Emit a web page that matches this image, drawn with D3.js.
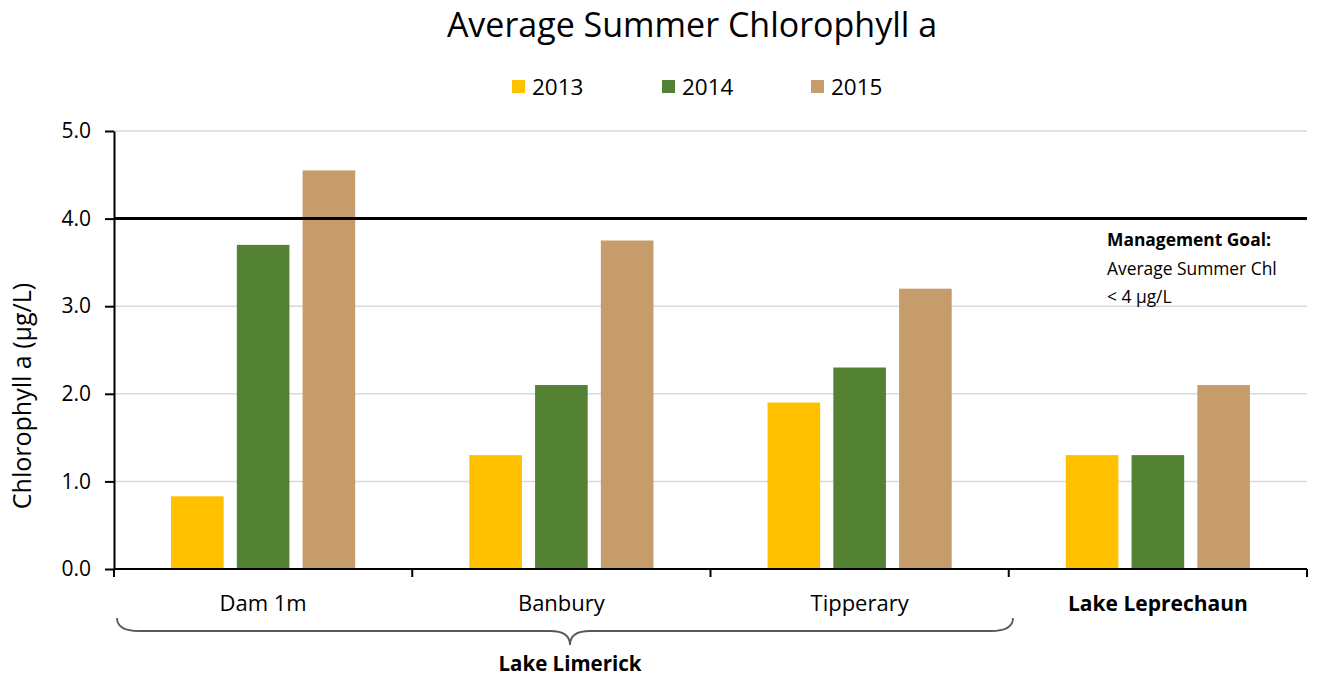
<!DOCTYPE html>
<html>
<head>
<meta charset="utf-8">
<script src="https://cdn.jsdelivr.net/npm/d3@7"></script>
<style>
  body { margin: 0; background: #fff; }
  text { font-family: "Open Sans", sans-serif; fill: #000; }
</style>
</head>
<body>
<svg id="chart" width="1317" height="678"></svg>
<script>
const sites   = ["Dam 1m", "Banbury", "Tipperary", "Lake Leprechaun"];
const years   = ["2013", "2014", "2015"];
const v2013   = [0.83, 1.3, 1.9, 1.3];
const v2014   = [3.7, 2.1, 2.3, 1.3];
const v2015   = [4.55, 3.75, 3.2, 2.1];
const colors  = ["#FFC000", "#548235", "#C69C6D"];
const yTicks  = [0, 1, 2, 3, 4, 5];
const goal    = 4;

const series = [v2013, v2014, v2015];

const svg = d3.select("#chart");
const m = {left: 114, right: 1307, top: 131, bottom: 569};

const x = d3.scaleBand().domain(sites).range([m.left, m.right]);
const xi = d3.scaleBand().domain(years).range([57, 298 - 57]).paddingInner(0.2);
const y = d3.scaleLinear().domain([0, 5]).range([m.bottom, m.top]);

// gridlines
svg.append("g")
  .selectAll("line")
  .data(yTicks.filter(t => t > 0))
  .join("line")
    .attr("x1", m.left).attr("x2", m.right)
    .attr("y1", d => y(d)).attr("y2", d => y(d))
    .attr("stroke", "#d9d9d9").attr("stroke-width", 1.5);

// bars
svg.append("g")
  .selectAll("g")
  .data(series)
  .join("g")
    .attr("fill", (d, i) => colors[i])
    .selectAll("rect")
    .data((d, i) => d.map((v, j) => ({site: sites[j], year: years[i], v})))
    .join("rect")
      .attr("x", d => x(d.site) + xi(d.year) * x.bandwidth() / 298)
      .attr("width", xi.bandwidth() * x.bandwidth() / 298)
      .attr("y", d => y(d.v))
      .attr("height", d => y(0) - y(d.v));

// y axis
const yAxis = svg.append("g")
  .attr("transform", `translate(${m.left},0)`)
  .call(d3.axisLeft(y).tickValues(yTicks).tickFormat(d3.format(".1f")).tickSize(9).tickSizeOuter(0));
yAxis.select(".domain").attr("stroke", "#000").attr("stroke-width", 2);
yAxis.selectAll(".tick line").attr("stroke", "#000").attr("stroke-width", 2);
yAxis.selectAll("text").attr("font-size", 21).attr("x", -23).attr("font-family", "Open Sans");

// x axis
const xAxis = svg.append("g").attr("transform", `translate(0,${m.bottom})`);
xAxis.append("line")
  .attr("x1", m.left).attr("x2", m.right)
  .attr("stroke", "#000").attr("stroke-width", 2);
xAxis.selectAll(".tk")
  .data(sites.map(s => x(s)).concat([m.right]))
  .join("line")
    .attr("class", "tk")
    .attr("x1", d => d).attr("x2", d => d)
    .attr("y1", 0).attr("y2", 8)
    .attr("stroke", "#000").attr("stroke-width", 2);
xAxis.selectAll(".lbl")
  .data(sites)
  .join("text")
    .attr("class", "lbl")
    .attr("x", d => x(d) + x.bandwidth() / 2)
    .attr("y", 42)
    .attr("text-anchor", "middle")
    .attr("font-size", d => d === "Lake Leprechaun" ? 21 : 22)
    .attr("font-weight", d => d === "Lake Leprechaun" ? "bold" : "normal")
    .text(d => d);

// goal line
svg.append("line")
  .attr("x1", m.left).attr("x2", m.right)
  .attr("y1", y(goal)).attr("y2", y(goal))
  .attr("stroke", "#000").attr("stroke-width", 3);

const note = svg.append("g").attr("font-size", 17.4);
note.append("text").attr("x", 1107).attr("y", 246).attr("font-weight", "bold").text("Management Goal:");
note.append("text").attr("x", 1107).attr("y", 275).text("Average Summer Chl");
note.append("text").attr("x", 1107).attr("y", 303).text("< 4 µg/L");

// brace under Lake Limerick sites
const bx0 = 117, bx1 = 1013, bmid = (bx0 + bx1) / 2 + 5;
const bTop = 618, bLine = 631, bTip = 645;
svg.append("path")
  .attr("d", `M${bx0},${bTop} Q${bx0},${bLine} ${bx0 + 22},${bLine}
              L${bmid - 20},${bLine} Q${bmid},${bLine} ${bmid},${bTip}
              Q${bmid},${bLine} ${bmid + 20},${bLine}
              L${bx1 - 22},${bLine} Q${bx1},${bLine} ${bx1},${bTop}`)
  .attr("fill", "none").attr("stroke", "#595959").attr("stroke-width", 1.8);
svg.append("text")
  .attr("x", bmid).attr("y", 671)
  .attr("text-anchor", "middle").attr("font-size", 20.5).attr("font-weight", "bold")
  .text("Lake Limerick");

// y title
svg.append("text")
  .attr("transform", "translate(31,396) rotate(-90)")
  .attr("text-anchor", "middle").attr("font-size", 25)
  .text("Chlorophyll a (µg/L)");

// title
svg.append("text")
  .attr("x", 692).attr("y", 37)
  .attr("text-anchor", "middle").attr("font-size", 34)
  .text("Average Summer Chlorophyll a");

// legend
const legX = [512, 662, 811];
const leg = svg.append("g").selectAll("g").data(years).join("g")
  .attr("transform", (d, i) => `translate(${legX[i]},80)`);
leg.append("rect").attr("width", 13).attr("height", 13).attr("fill", (d, i) => colors[i]);
leg.append("text").attr("x", 20).attr("y", 15).attr("font-size", 22.5).text(d => d);
</script>
</body>
</html>
